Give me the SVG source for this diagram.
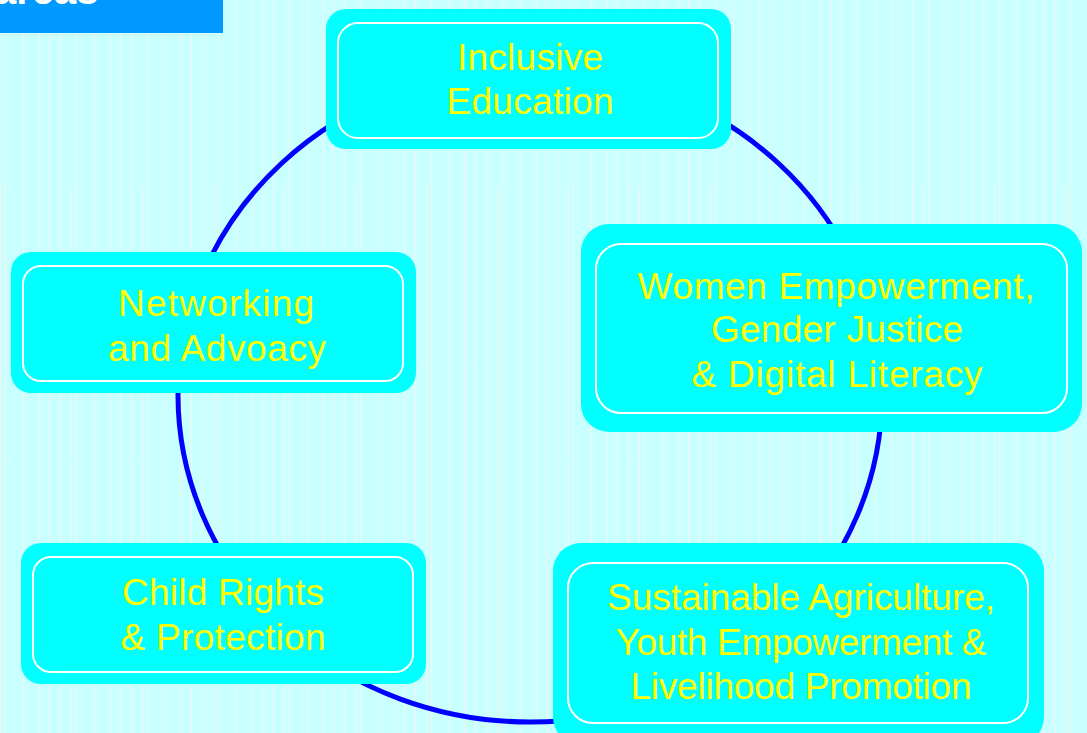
<svg xmlns="http://www.w3.org/2000/svg" width="1087" height="733" viewBox="0 0 1087 733">
<defs>
<pattern id="bgLines" x="0" y="0" width="142" height="733" patternUnits="userSpaceOnUse">
<rect width="142" height="733" fill="#c8ffff"/>
<g stroke="#fbf2f0" stroke-width="1" stroke-opacity="0.85">
<line x1="5.5" y1="0" x2="5.5" y2="733"/>
<line x1="23.5" y1="0" x2="23.5" y2="733"/>
<line x1="39.5" y1="0" x2="39.5" y2="733"/>
<line x1="49.5" y1="0" x2="49.5" y2="733"/>
<line x1="60.5" y1="0" x2="60.5" y2="733"/>
<line x1="76.5" y1="0" x2="76.5" y2="733"/>
<line x1="94.5" y1="0" x2="94.5" y2="733"/>
<line x1="110.5" y1="0" x2="110.5" y2="733"/>
<line x1="120.5" y1="0" x2="120.5" y2="733"/>
<line x1="131.5" y1="0" x2="131.5" y2="733"/>
<line x1="0.5" y1="186" x2="0.5" y2="733"/>
<line x1="71.5" y1="186" x2="71.5" y2="733"/>
</g>
</pattern>
<style>
.outer{fill:#00ffff;}
.inner{fill:none;stroke:#ffffff;stroke-width:2;}
.lbl{font-family:"Liberation Sans",Arial,sans-serif;font-size:37px;fill:#ffff00;text-anchor:middle;}
.hdr{font-family:"Liberation Sans",Arial,sans-serif;font-size:40px;font-weight:bold;fill:#ffffff;}
</style>
</defs>
<rect x="0" y="0" width="1087" height="733" fill="url(#bgLines)"/>
<g id="header">
<rect x="0" y="0" width="223" height="33" fill="#0099ff"/>
<text class="hdr" x="-6" y="4">areas</text>
</g>
<g id="connectors">
<ellipse cx="530" cy="395" rx="352" ry="327" fill="none" stroke="#0000ff" stroke-width="5"/>
</g>
<g id="node-inclusive-education">
<rect class="outer" x="326" y="9" width="405" height="140" rx="20"/>
<rect class="inner" x="338" y="23" width="380" height="115" rx="20"/>
<text class="lbl" x="530" y="70" textLength="146" lengthAdjust="spacing">Inclusive</text>
<text class="lbl" x="530" y="114" textLength="167" lengthAdjust="spacing">Education</text>
</g>
<g id="node-women-empowerment">
<rect class="outer" x="581" y="224" width="501" height="208" rx="28"/>
<rect class="inner" x="596" y="244" width="471" height="169" rx="25"/>
<text class="lbl" x="836" y="299" textLength="397" lengthAdjust="spacing">Women Empowerment,</text>
<text class="lbl" x="837" y="342" textLength="252" lengthAdjust="spacing">Gender Justice</text>
<text class="lbl" x="837" y="387" textLength="291" lengthAdjust="spacing">&amp; Digital Literacy</text>
</g>
<g id="node-networking">
<rect class="outer" x="11" y="252" width="405" height="141" rx="20"/>
<rect class="inner" x="23" y="266" width="380" height="115" rx="18"/>
<text class="lbl" x="216" y="316" textLength="196" lengthAdjust="spacing">Networking</text>
<text class="lbl" x="217" y="361" textLength="218" lengthAdjust="spacing">and Advoacy</text>
</g>
<g id="node-child-rights">
<rect class="outer" x="21" y="543" width="405" height="141" rx="20"/>
<rect class="inner" x="33" y="557" width="380" height="115" rx="18"/>
<text class="lbl" x="223" y="605" textLength="202" lengthAdjust="spacing">Child Rights</text>
<text class="lbl" x="223" y="650" textLength="205" lengthAdjust="spacing">&amp; Protection</text>
</g>
<g id="node-sustainable-agriculture">
<rect class="outer" x="553" y="543" width="491" height="202" rx="28"/>
<rect class="inner" x="568" y="563" width="460" height="160" rx="25"/>
<text class="lbl" x="801" y="610" textLength="388" lengthAdjust="spacing">Sustainable Agriculture,</text>
<text class="lbl" x="801" y="655" textLength="371" lengthAdjust="spacing">Youth Empowerment &amp;</text>
<text class="lbl" x="801" y="699" textLength="341" lengthAdjust="spacing">Livelihood Promotion</text>
</g>
</svg>
